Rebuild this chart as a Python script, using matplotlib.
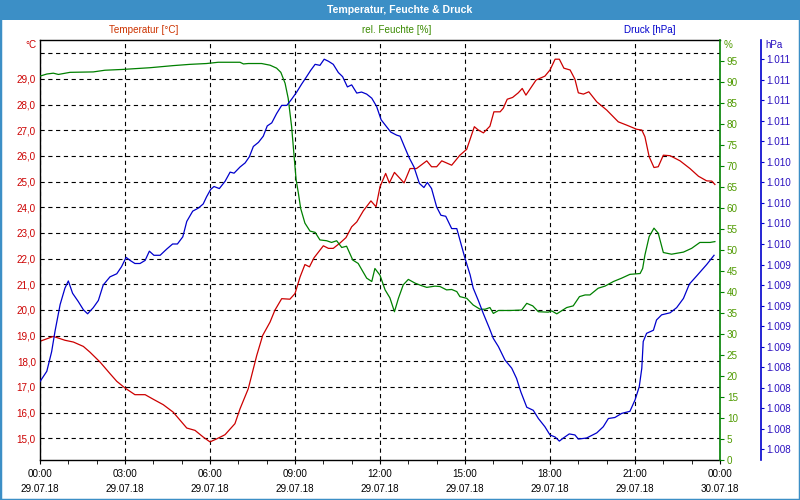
import matplotlib
matplotlib.use("Agg")
import matplotlib.pyplot as plt
from matplotlib.patches import Rectangle
from matplotlib.ticker import MultipleLocator

plt.rcParams['font.family'] = ['Liberation Sans', 'DejaVu Sans']
plt.rcParams['font.size'] = 7.1

# hours since 29.07.18 00:00
temp_h = [0.00, 0.47, 0.88, 1.18, 1.53, 1.76, 2.12, 2.47, 2.71, 3.00, 3.35, 3.71, 4.00, 4.35,
          4.70, 5.18, 5.47, 5.76, 6.00, 6.24, 6.53, 6.88, 7.06, 7.35, 7.65, 7.86, 8.12, 8.29,
          8.53, 8.82, 9.00, 9.18, 9.35, 9.51, 9.67, 10.00, 10.18, 10.35, 10.59, 10.80, 11.00,
          11.18, 11.41, 11.68, 11.86, 12.00, 12.20, 12.33, 12.51, 12.85, 13.06, 13.29, 13.65,
          13.82, 14.00, 14.18, 14.53, 14.82, 15.06, 15.33, 15.47, 15.65, 15.88, 16.02, 16.24,
          16.35, 16.49, 16.68, 16.88, 17.02, 17.15, 17.29, 17.51, 17.82, 18.00, 18.18, 18.33,
          18.49, 18.71, 18.88, 19.00, 19.18, 19.37, 19.65, 20.00, 20.41, 20.71, 21.06, 21.24,
          21.35, 21.50, 21.67, 21.82, 22.00, 22.24, 22.59, 22.94, 23.24, 23.53, 23.71, 23.82]
temp_c = [18.78, 18.97, 18.82, 18.75, 18.58, 18.36, 17.97, 17.52, 17.22, 16.96, 16.70, 16.70,
          16.52, 16.31, 16.02, 15.40, 15.31, 15.05, 14.86, 14.98, 15.14, 15.57, 16.15, 16.93,
          18.23, 19.01, 19.53, 19.99, 20.44, 20.42, 20.64, 21.29, 21.77, 21.68, 22.03, 22.50,
          22.40, 22.40, 22.61, 22.82, 23.24, 23.43, 23.86, 24.25, 24.02, 24.80, 25.32, 24.95,
          25.36, 24.95, 25.51, 25.51, 25.81, 25.58, 25.58, 25.81, 25.64, 26.03, 26.26, 27.14,
          27.01, 26.90, 27.16, 27.72, 27.72, 27.86, 28.21, 28.28, 28.46, 28.63, 28.37, 28.60,
          28.96, 29.11, 29.35, 29.77, 29.77, 29.42, 29.35, 28.99, 28.46, 28.41, 28.50, 28.11,
          27.79, 27.33, 27.20, 27.04, 27.01, 26.75, 25.97, 25.55, 25.58, 26.03, 26.01, 25.81,
          25.51, 25.21, 25.03, 25.02, 24.89]

hum_h = [0.00, 0.24, 0.47, 0.65, 1.06, 1.88, 2.29, 2.94, 3.88, 4.70, 5.29, 5.88, 6.29, 7.06,
         7.18, 7.35, 7.82, 8.12, 8.35, 8.50, 8.65, 8.76, 8.88, 8.98, 9.04, 9.12, 9.20, 9.35,
         9.53, 9.71, 9.88, 10.12, 10.29, 10.47, 10.65, 10.82, 11.04, 11.23, 11.53, 11.71, 11.82,
         12.00, 12.18, 12.35, 12.51, 12.65, 12.82, 13.00, 13.24, 13.47, 13.65, 13.94, 14.12,
         14.35, 14.53, 14.71, 14.82, 15.06, 15.29, 15.53, 15.71, 15.88, 16.00, 16.18, 16.59,
         17.00, 17.18, 17.39, 17.59, 17.94, 18.06, 18.24, 18.59, 18.82, 19.04, 19.24, 19.41,
         19.70, 19.94, 20.24, 20.53, 20.82, 21.18, 21.27, 21.35, 21.50, 21.67, 21.82, 22.00,
         22.29, 22.71, 23.00, 23.29, 23.65, 23.82]
hum_pct = [91.4, 91.9, 92.1, 91.8, 92.3, 92.4, 92.8, 93.0, 93.4, 93.9, 94.2, 94.4, 94.7, 94.7,
           94.3, 94.4, 94.4, 94.0, 93.3, 92.3, 89.7, 86.1, 79.4, 71.4, 66.7, 63.5, 59.9, 56.4,
           54.5, 54.2, 52.4, 52.2, 51.8, 52.2, 50.6, 50.9, 47.6, 46.8, 43.3, 42.5, 45.6, 44.0,
           40.5, 38.6, 35.3, 38.5, 41.7, 43.0, 42.1, 41.5, 41.1, 41.4, 41.3, 40.5, 40.6, 40.1,
           38.9, 38.5, 36.9, 35.9, 35.9, 36.3, 34.9, 35.6, 35.6, 35.7, 37.3, 36.7, 35.3, 35.2,
           35.5, 34.8, 36.3, 36.7, 38.9, 39.3, 39.3, 40.9, 41.4, 42.5, 43.3, 44.2, 44.4, 45.6,
           48.8, 53.2, 55.2, 54.0, 49.4, 49.0, 49.5, 50.4, 51.8, 51.8, 52.0]

druck_h = [0.00, 0.24, 0.41, 0.53, 0.71, 0.88, 1.00, 1.15, 1.35, 1.53, 1.68, 1.88, 2.06, 2.23,
           2.47, 2.71, 2.88, 3.04, 3.18, 3.35, 3.53, 3.71, 3.86, 4.02, 4.24, 4.47, 4.68, 4.85,
           5.04, 5.18, 5.39, 5.59, 5.76, 5.88, 6.02, 6.14, 6.33, 6.53, 6.71, 6.85, 7.06, 7.24,
           7.39, 7.53, 7.71, 7.88, 8.02, 8.18, 8.35, 8.53, 8.71, 8.88, 9.06, 9.24, 9.41, 9.55,
           9.71, 9.88, 10.03, 10.18, 10.35, 10.53, 10.68, 10.85, 11.00, 11.18, 11.35, 11.53,
           11.71, 11.88, 12.04, 12.21, 12.38, 12.59, 12.71, 12.86, 13.03, 13.20, 13.39, 13.55,
           13.67, 13.82, 14.00, 14.15, 14.32, 14.53, 14.71, 14.82, 15.00, 15.18, 15.29, 15.47,
           15.65, 15.86, 16.00, 16.18, 16.41, 16.65, 16.82, 16.97, 17.18, 17.41, 17.59, 17.82,
           18.00, 18.18, 18.33, 18.47, 18.68, 18.88, 19.00, 19.29, 19.65, 19.88, 20.06, 20.29,
           20.53, 20.82, 21.00, 21.15, 21.24, 21.29, 21.41, 21.65, 21.76, 21.94, 22.24, 22.47,
           22.71, 22.92, 23.18, 23.53, 23.79]
druck_hpa = [1008.26, 1008.36, 1008.55, 1008.75, 1009.01, 1009.17, 1009.24, 1009.12, 1009.04,
             1008.96, 1008.92, 1008.98, 1009.05, 1009.20, 1009.28, 1009.31, 1009.38, 1009.47,
             1009.44, 1009.41, 1009.41, 1009.44, 1009.53, 1009.49, 1009.49, 1009.55, 1009.60,
             1009.60, 1009.67, 1009.82, 1009.92, 1009.95, 1009.99, 1010.06, 1010.13, 1010.16,
             1010.14, 1010.21, 1010.30, 1010.29, 1010.35, 1010.39, 1010.45, 1010.55, 1010.59,
             1010.65, 1010.75, 1010.78, 1010.87, 1010.95, 1010.95, 1011.01, 1011.08, 1011.16,
             1011.23, 1011.29, 1011.35, 1011.34, 1011.40, 1011.38, 1011.35, 1011.27, 1011.23,
             1011.13, 1011.15, 1011.07, 1011.08, 1011.06, 1011.02, 1010.94, 1010.81, 1010.75,
             1010.69, 1010.66, 1010.65, 1010.55, 1010.44, 1010.35, 1010.19, 1010.15, 1010.20,
             1010.14, 1009.96, 1009.88, 1009.87, 1009.75, 1009.75, 1009.64, 1009.46, 1009.30,
             1009.17, 1009.05, 1008.92, 1008.78, 1008.68, 1008.60, 1008.47, 1008.39, 1008.29,
             1008.16, 1008.01, 1007.98, 1007.90, 1007.82, 1007.74, 1007.72, 1007.68, 1007.71,
             1007.75, 1007.74, 1007.70, 1007.71, 1007.76, 1007.82, 1007.90, 1007.91, 1007.95,
             1007.97, 1008.08, 1008.21, 1008.39, 1008.65, 1008.73, 1008.76, 1008.86, 1008.91,
             1008.93, 1008.98, 1009.07, 1009.21, 1009.29, 1009.40, 1009.49]

x_ticks = [0, 3, 6, 9, 12, 15, 18, 21, 24]
x_labels = ["00:00\n29.07.18", "03:00\n29.07.18", "06:00\n29.07.18", "09:00\n29.07.18",
            "12:00\n29.07.18", "15:00\n29.07.18", "18:00\n29.07.18", "21:00\n29.07.18",
            "00:00\n30.07.18"]
temp_ticks = [15, 16, 17, 18, 19, 20, 21, 22, 23, 24, 25, 26, 27, 28, 29, 30]
hum_ticks = [0, 5, 10, 15, 20, 25, 30, 35, 40, 45, 50, 55, 60, 65, 70, 75, 80, 85, 90, 95]
druck_ticks = [1007.6, 1007.8, 1008.0, 1008.2, 1008.4, 1008.6, 1008.8, 1009.0, 1009.2, 1009.4,
               1009.6, 1009.8, 1010.0, 1010.2, 1010.4, 1010.6, 1010.8, 1011.0, 1011.2, 1011.4]

RED = '#cc0000'
GREEN = '#008000'
BLUE = '#0000cc'
FRAME = '#3c8fc6'

fig = plt.figure(figsize=(8, 5), dpi=100)
fig.patches.append(Rectangle((0, 480 / 500), 1, 20 / 500, transform=fig.transFigure,
                             facecolor=FRAME, edgecolor='none', zorder=0))
fig.patches.append(Rectangle((0, 0), 1, 1, transform=fig.transFigure, fill=False,
                             edgecolor=FRAME, lw=2.5, zorder=0))

ax = fig.add_axes([0.05, 0.08, 0.85, 0.84])
ax.plot(temp_h, temp_c, color=RED, lw=0.9)
ax.set_xlim(0, 24)
ax.set_ylim(14.155, 30.518)
ax.set_xticks(x_ticks)
ax.set_xticklabels(x_labels, linespacing=1.6)
ax.xaxis.set_minor_locator(MultipleLocator(1))
ax.tick_params(axis='x', which='both', direction='out', length=3, pad=3.5)
ax.set_yticks(temp_ticks)
ax.set_yticklabels([f"{t:.1f}".replace('.', ',') if t < 30 else "" for t in temp_ticks])
ax.tick_params(axis='y', length=0, pad=3, labelcolor=RED)
ax.grid(True, color='black', linestyle=(0, (3.8, 3.2)), lw=0.8)
ax.spines['right'].set_visible(False)
for s in ['left', 'top', 'bottom']:
    ax.spines[s].set_linewidth(1.0)

ax_h = ax.twinx()
ax_h.plot(hum_h, hum_pct, color=GREEN, lw=0.9)
ax_h.set_ylim(0, 100)
ax_h.set_yticks(hum_ticks)
ax_h.tick_params(axis='y', length=3, pad=2, color=GREEN, labelcolor='#4f9a00')
for s in ['left', 'top', 'bottom']:
    ax_h.spines[s].set_visible(False)
ax_h.spines['right'].set_color(GREEN)
ax_h.spines['right'].set_linewidth(1.2)

ax_p = ax.twinx()
ax_p.plot(druck_h, druck_hpa, color=BLUE, lw=0.9)
ax_p.set_ylim(1007.496, 1011.587)
ax_p.spines['right'].set_position(('axes', 1.06))
ax_p.set_yticks(druck_ticks)
ax_p.set_yticklabels([f"{p:,.0f}".replace(',', '.') for p in druck_ticks])
ax_p.tick_params(axis='y', length=2, pad=2, color=BLUE, labelcolor='#2a10c0')
for s in ['left', 'top', 'bottom']:
    ax_p.spines[s].set_visible(False)
ax_p.spines['right'].set_color(BLUE)
ax_p.spines['right'].set_linewidth(1.2)

fig.text(0.5, 1 - 10 / 500, "Temperatur, Feuchte & Druck", ha='center', va='center',
         color='white', fontweight='bold', fontsize=7.6)
fig.text(144 / 800, 1 - 30 / 500, "Temperatur [°C]", ha='center', va='center', color='#cc3300')
fig.text(397 / 800, 1 - 30 / 500, "rel. Feuchte [%]", ha='center', va='center', color='#3a8a00')
fig.text(650 / 800, 1 - 30 / 500, "Druck [hPa]", ha='center', va='center', color=BLUE)
fig.text(37 / 800, 1 - 45 / 500, "°C", ha='right', va='center', color=RED)
fig.text(724 / 800, 1 - 45 / 500, "%", ha='left', va='center', color='#4f9a00')
fig.text(765 / 800, 1 - 45 / 500, "hPa", ha='left', va='center', color='#2a10c0')

fig.savefig('out.png', dpi=100)
